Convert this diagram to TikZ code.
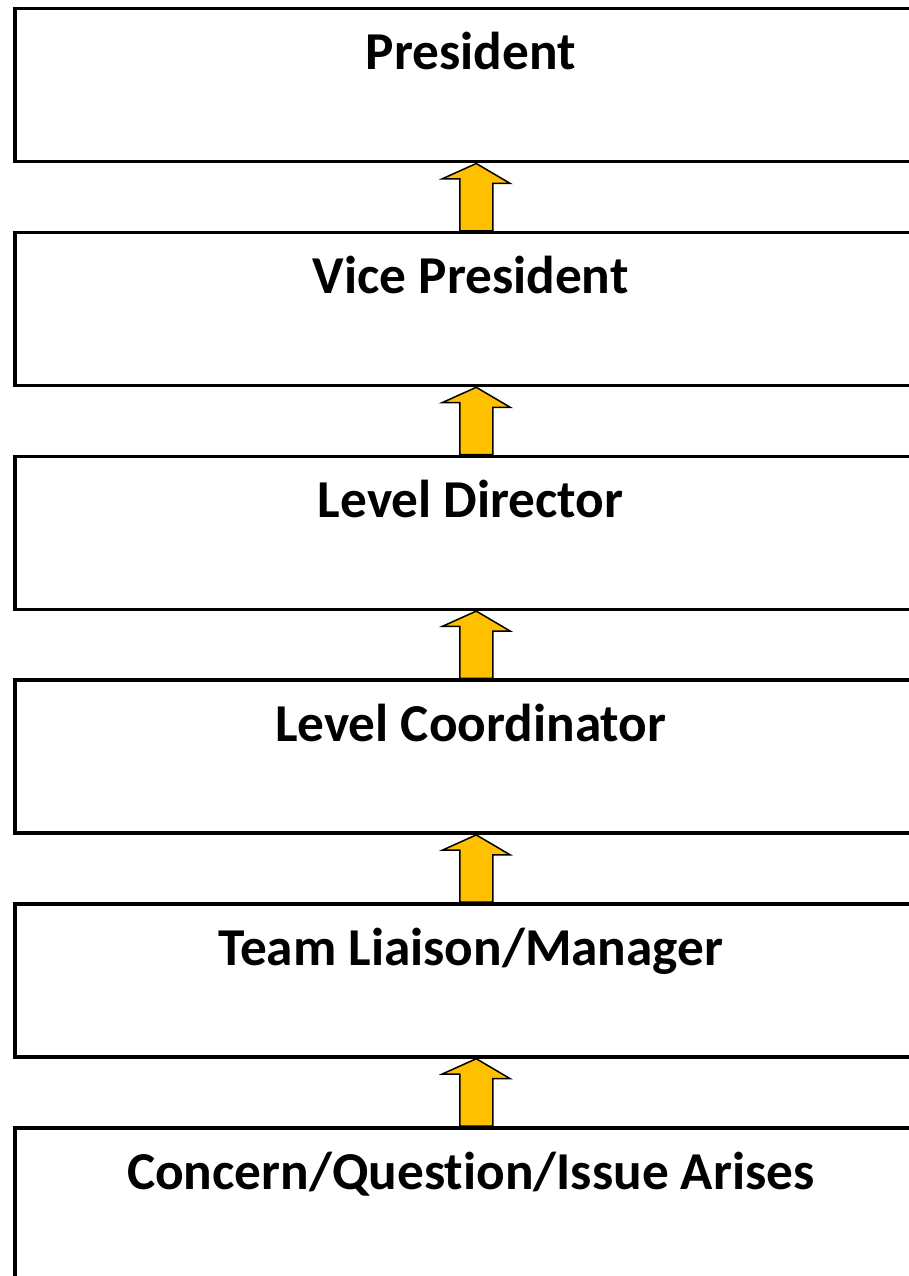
\documentclass[tikz,border=0pt]{standalone}
\usepackage{fontspec}
\setmainfont[Ligatures={NoCommon}]{Carlito}
\usetikzlibrary{calc}
\definecolor{gold}{HTML}{FFC000}

\begin{document}
\begin{tikzpicture}[x=1pt, y=-1pt]

        \useasboundingbox (0,0) rectangle (909,1276);
        \clip (0,0) rectangle (909,1276);

        % levels
        \foreach \t [count=\i from 0] in {{President}, {Vice President}, {Level Director}, {Level Coordinator}, {Team Liaison/Manager}, {Concern/Question/Issue Arises}}
        {
            \node[rectangle, draw, line width=3.5pt, minimum width=914pt, minimum height=153pt, anchor=north west, inner sep=0pt] (box \i) at (13, 7+\i*223.8) {};
            \node[anchor=base, font=\fontsize{53.3}{62}\selectfont\bfseries] (label \i) at ($(box \i.north)+(-1,63)$) {\t};
        }

        % arrows up
        \foreach \i in {0,...,4}
        {
            \pgfmathtruncatemacro{\j}{\i+1}
            \draw[fill=gold, line width=1.5pt, line join=miter] ($(box \i.south)+(4.5,0)$) -- ++(34,20) -- ++(-17.5,0) -- ($(box \j.north)+(21,0)$) -- ++(-33,0) -- ++(0,-52) -- ++(-17.5,0) -- cycle;
        }

\end{tikzpicture}
\end{document}
